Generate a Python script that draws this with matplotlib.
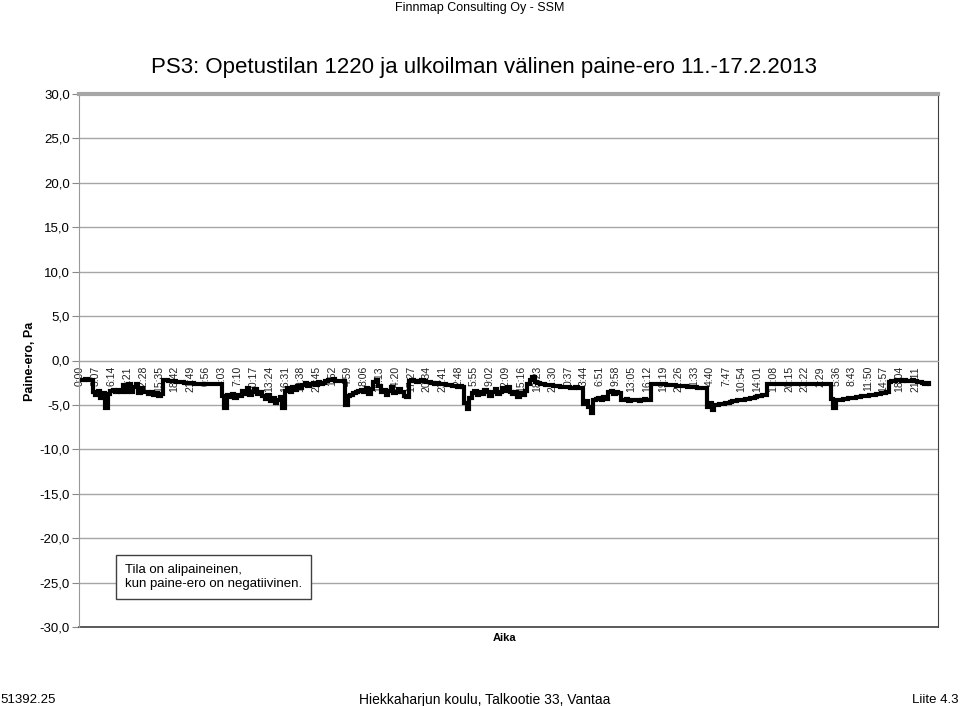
import numpy as np
import matplotlib.pyplot as plt

# half-hour readings of the pressure difference (Pa), one list per day 11.-17.2.2013
day1 = [-2.2, -2.2, -2.1, -2.2, -2.2,
        -3.6, -3.9, -3.4, -4.2, -3.7, -5.3, -3.8,
        -3.4, -3.3, -3.5, -3.3, -3.6,
        -2.8, -3.5, -2.6, -3.6, -3.0, -2.7, -3.7, -3.1,
        -3.5, -3.6, -3.8, -3.5, -3.9, -3.7, -4.0, -3.8,
        -2.2, -2.2, -2.3, -2.3, -2.3, -2.4, -2.4, -2.4, -2.5, -2.5, -2.5, -2.5, -2.6, -2.6, -2.6]
day2 = [-2.6, -2.6, -2.7, -2.7, -2.7, -2.7, -2.7, -2.7,
        -4.0, -5.4,
        -3.9, -4.1, -3.8, -4.2, -3.9, -4.0,
        -3.4, -3.8, -3.1, -3.9, -3.5, -3.2, -3.8, -3.6, -4.0,
        -4.3, -3.9, -4.6, -4.2, -4.8, -4.4, -4.1, -5.3,
        -3.4, -3.1, -3.5, -3.0, -3.3, -2.9, -3.1,
        -2.8, -2.5, -2.9, -2.6, -2.5, -2.8, -2.4, -2.6]
day3 = [-2.5, -2.3, -2.2, -2.2, -2.1, -2.3, -2.3, -2.3,
        -2.3, -5.0,
        -4.0, -3.9, -3.7, -3.6, -3.4, -3.3,
        -3.5, -3.1, -3.8, -3.2, -2.4, -2.2, -2.9, -3.6, -3.3, -3.9, -3.4, -3.0, -3.7, -3.5, -3.2, -3.6, -4.0, -4.1,
        -2.3, -2.2, -2.3, -2.4, -2.3, -2.2, -2.3, -2.4, -2.4, -2.5, -2.6, -2.5, -2.6, -2.7]
day4 = [-2.7, -2.8, -2.8, -2.9, -2.9, -3.0, -2.9, -3.0,
        -4.8, -5.5, -4.2,
        -3.7, -3.4, -3.9, -3.5, -3.8, -3.3, -3.6, -4.0, -3.5, -3.2, -3.8, -3.6, -3.1, -3.4, -3.0, -3.5,
        -3.8, -3.6, -4.1, -3.7, -3.9, -3.4,
        -2.6, -2.2, -1.9, -2.4, -2.5,
        -2.7, -2.7, -2.8, -2.8, -2.8, -2.9, -2.9, -2.9, -3.0, -3.0]
day5 = [-3.0, -3.0, -3.1, -3.1, -3.0, -3.1, -3.1,
        -4.9, -4.6, -5.2, -5.9, -4.5,
        -4.3, -4.2, -4.4, -4.1, -4.3,
        -3.6, -3.4, -3.8, -3.5, -3.7,
        -4.4, -4.5, -4.3, -4.6, -4.4, -4.5, -4.4, -4.6, -4.5, -4.3, -4.5, -4.4,
        -2.7, -2.6, -2.6, -2.7, -2.7, -2.7, -2.8, -2.8, -2.8, -2.8, -2.9, -2.9, -2.9, -2.9]
day6 = [-3.0, -3.0, -3.0, -3.0, -3.1, -3.1, -3.1, -3.1,
        -5.2, -4.8, -5.6,
        -5.0, -5.0, -4.9, -4.9, -4.8, -4.8, -4.7, -4.6, -4.6, -4.5, -4.4, -4.4, -4.3, -4.3, -4.2,
        -4.2, -4.1, -4.0, -4.0, -3.9, -3.9,
        -2.7, -2.7, -2.6, -2.7, -2.7, -2.7, -2.7, -2.6, -2.7, -2.7, -2.7, -2.7, -2.7, -2.7, -2.7, -2.7]
day7 = [-2.7, -2.7, -2.7, -2.7, -2.7, -2.7, -2.7, -2.7, -2.7,
        -4.3, -5.3, -4.5,
        -4.4, -4.4, -4.3, -4.3, -4.2, -4.2, -4.2, -4.1, -4.1, -4.0, -4.0, -4.0, -3.9, -3.9, -3.9, -3.8,
        -3.8, -3.7, -3.7, -3.6,
        -2.4, -2.3, -2.3, -2.2, -2.2, -2.3, -2.2, -2.3, -2.3, -2.2, -2.3, -2.4, -2.4, -2.5, -2.6, -2.5]

tick_labels = ['0:00', '3:07', '6:14', '9:21', '12:28', '15:35', '18:42', '21:49', '0:56', '4:03',
               '7:10', '10:17', '13:24', '16:31', '19:38', '22:45', '1:52', '4:59', '8:06', '11:13',
               '14:20', '17:27', '20:34', '23:41', '2:48', '5:55', '9:02', '12:09', '15:16', '18:23',
               '21:30', '0:37', '3:44', '6:51', '9:58', '13:05', '16:12', '19:19', '22:26', '1:33',
               '4:40', '7:47', '10:54', '14:01', '17:08', '20:15', '23:22', '2:29', '5:36', '8:43',
               '11:50', '14:57', '18:04', '21:11']
tick_step = 187  # minutes between labels

values = day1 + day2 + day3 + day4 + day5 + day6 + day7
minutes = np.arange(len(values)) * 30
minutes = np.append(minutes, len(values) * 30)
values = values + [-2.7]

plt.rcParams['font.family'] = ['Liberation Sans', 'DejaVu Sans']

fig = plt.figure(figsize=(9.6, 7.06), dpi=100)
ax = fig.add_axes([79/960, 79/706, (938-79)/960, (627-94)/706])

# category axis crosses at 0 (set before the tick labels, it resets them)
ax.spines['bottom'].set_position(('data', 0))

ax.plot(minutes, values, color='black', lw=3, drawstyle='steps-post', solid_joinstyle='miter')

ax.set_xlim(-12, 10184)
ax.set_ylim(-30, 30)
ax.set_yticks(range(-30, 31, 5))
ax.set_yticklabels([f'{v:.1f}'.replace('.', ',') for v in range(-30, 31, 5)], fontsize=9.5)
ax.yaxis.grid(True, color='#a6a6a6', lw=1)
ax.set_axisbelow(True)
ax.tick_params(axis='y', direction='out', length=5, color='#888888', pad=1.5)

ax.set_xticks(np.arange(len(tick_labels)) * tick_step)
ax.set_xticklabels(tick_labels, rotation=90, fontsize=7.5, color='#222222')
ax.tick_params(axis='x', length=0, pad=4)
ax.spines['bottom'].set_color('#a6a6a6')
ax.spines['left'].set_color('#999999')
ax.spines['top'].set_color('#a6a6a6')
ax.spines['top'].set_linewidth(3)
ax.spines['right'].set_color('#404040')
ax.plot([0, 1], [0, 0], transform=ax.transAxes, color='#404040', lw=1.2, clip_on=False)

fig.text(0.5, 1 - 8/706, 'Finnmap Consulting Oy - SSM', ha='center', va='center', fontsize=9)
fig.text(484/960, 1 - 68/706, 'PS3: Opetustilan 1220 ja ulkoilman välinen paine-ero 11.-17.2.2013',
         ha='center', va='center', fontsize=16)
fig.text(30/960, 1 - 361/706, 'Paine-ero, Pa', rotation=90, ha='center', va='center',
         fontsize=9, weight='bold')
fig.text(505/960, 1 - 638/706, 'Aika', ha='center', va='center', fontsize=8, weight='bold')
fig.text(125/960, 1 - 577/706, 'Tila on alipaineinen,\nkun paine-ero on negatiivinen.',
         ha='left', va='center', fontsize=9.5, linespacing=1.25,
         bbox=dict(boxstyle='square,pad=0.7', fc='white', ec='#404040', lw=1))

fig.text(0, 1 - 700/706, '51392.25', ha='left', va='center', fontsize=9.5)
fig.text(485/960, 1 - 700/706, 'Hiekkaharjun koulu, Talkootie 33, Vantaa', ha='center',
         va='center', fontsize=10)
fig.text(958/960, 1 - 700/706, 'Liite 4.3', ha='right', va='center', fontsize=9.5)

fig.savefig('out.png', dpi=100)
